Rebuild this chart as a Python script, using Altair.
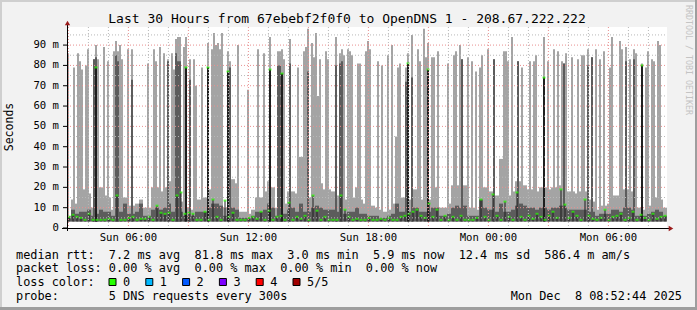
import altair as alt
import pandas as pd

# ---------------- data ----------------
# window: 30 hours, hours counted from the left edge (Sun ~02:56)
COL_H = 0.2    # width of one smoke column (hours)
STEP_H = 0.1   # width of one spike step (hours)

# low "smoke" per 12-minute column (ms)
base_light = [6,14,12,14,19,17,10,12,20,16, 15,9,12,15,15,11,11,12,14,10,
              10,20,20,18,20,23,14,14,13,10, 10,9,14,14,15,19,28,28,26,10,
              24,24,22,8,8,7,9,15,15,18, 23,20,10,10,12,18,18,17,35,15,
              15,24,24,22,19,19,18,16,16,14, 15,15,20,14,12,11,11,10,9,8,
              9,12,45,15,15,14,19,19,14,13, 14,20,20,10,10,12,21,21,19,21,
              10,10,9,27,20,18,18,16,34,16, 16,18,23,23,21,19,19,18,20,20,
              19,20,20,21,20,18,18,17,18,18, 14,13,9,11,11,12,16,16,15,19,
              19,18,10,10,9,11,15,15,14,10]
base_dark = [5,9,7,8,8,9,6,7,9,8, 8,6,7,8,12,7,7,8,12,6,
             6,9,10,9,10,12,8,8,8,6, 6,6,8,8,8,10,12,12,11,6,
             11,10,9,5,5,5,6,8,8,9, 12,10,6,6,7,9,10,8,12,8,
             8,10,11,10,9,9,9,8,8,7, 8,8,10,7,7,6,6,6,5,5,
             6,7,12,8,8,8,10,10,8,8, 8,10,10,6,6,7,10,11,10,11,
             6,6,6,14,10,9,9,8,12,8, 8,9,11,12,11,10,10,9,10,10,
             9,10,10,11,10,9,9,9,9,9, 8,8,6,7,7,7,9,9,8,10,
             10,9,6,6,6,7,8,9,8,6]
base_median = [5.5,6.5,5.5,5,4,7,4,4,4,4, 4.5,4,16,4,4,5,5.5,4,4.5,4.5,
               5.5,4,11,7.5,7,7.5,4,16,17.5,7, 7.5,7,4,4,8,4,14,5.5,4,13.5,
               5.5,7.5,4,4,4,5,5.5,4.5,8,4, 8.5,4,5.5,6,4,12.5,4,5.5,4.5,6,
               4,16,8.5,4,5.5,4,4,4,16,9, 5.5,4,4.5,4,4,5,4,4,4.5,4,
               5,4,4,5.5,6,7,8,9,6,5, 12,5.5,9,4,6,4,5.5,4,6,4,
               4,4,5,14,5.5,4,16.5,6,4,13, 5.5,4,17.5,5.5,4,6,4.5,7,5.5,4,
               6,8,5,19,11.5,5,8,6,4,14, 6,4.5,4,5,9,4,5.5,6,7,4,
               5,8,4,6.5,5,4,7,4.5,5.5,6]

# tall spikes: step index (6 min each), max ping, dark band top, black/median top (0 = none)
spike_step  = [0,3,5,6,7,9,10,13,14,15,18,20,23,24,25,26,27,30,32,40,43,44,46,48,50,52,53,54,55,56,
               58,59,61,63,64,67,70,72,73,74,75,76,77,80,81,85,90,95,98,101,105,106,107,108,111,115,118,119,120,122,
               123,124,125,126,129,130,134,136,137,138,140,141,142,145,146,149,150,151,155,157,160,162,165,166,169,170,172,175,176,178,
               179,180,182,183,185,190,193,194,196,197,200,202,204,206,207,210,213,218,219,220,222,225,227,231,233,234,238,240,243,245,
               247,248,249,252,255,257,258,260,262,264,266,268,271,272,276,277,279,281,283,284,287,289,290,292,293,295,296]
spike_max   = [86,79,86,82,78,80,88,83,90,83,89,82,87,92,87,90,83,88,88,81,88,82,89,86,83,86,78,93,94,94,
               89,94,83,83,70,79,91,88,96,90,91,88,96,87,82,90,68,88,86,94,87,87,88,83,93,79,87,89,98,91,
               84,96,65,83,87,83,94,86,88,85,88,87,85,81,81,87,92,88,82,80,85,90,79,81,79,86,95,88,82,98,
               84,91,84,84,87,81,85,87,90,83,84,82,77,79,85,88,83,87,87,82,94,82,79,82,82,85,94,82,88,87,
               82,81,86,84,83,85,85,88,84,88,83,87,79,94,92,88,89,83,88,86,81,79,87,83,82,92,90]
spike_dark  = [0,0,0,0,0,0,0,83,84,0,0,0,0,85,82,0,0,0,73,0,0,0,0,0,82,0,0,86,82,82,
               0,0,73,0,0,0,0,0,0,0,0,0,0,0,79,0,0,0,0,0,80,80,0,0,81,0,0,0,77,0,
               0,0,0,0,0,0,80,81,82,0,0,0,0,0,0,0,0,0,0,0,0,0,0,0,72,0,74,0,0,0,
               0,0,0,0,0,0,0,0,0,83,0,0,0,0,0,0,83,0,0,0,0,82,0,0,0,0,0,0,0,0,
               0,81,0,0,0,0,0,80,84,0,0,0,0,0,0,0,82,0,83,0,0,0,0,0,0,0,0]
spike_black = [0,0,0,0,0,0,0,0,79,0,0,0,0,0,0,0,0,0,0,0,0,0,0,0,0,0,0,0,0,0,
               0,79,0,0,0,0,79,0,0,0,0,0,0,77,0,0,0,0,0,78,0,0,76,0,0,0,0,0,0,0,
               0,0,0,0,0,0,0,0,0,0,0,0,0,0,0,0,0,0,0,0,0,0,0,0,0,81,0,0,0,0,
               0,78,0,0,0,0,0,0,0,0,0,0,0,0,0,0,0,0,0,0,0,0,0,0,0,0,74,0,0,0,
               0,0,0,0,0,0,0,0,0,0,0,0,0,0,0,0,0,0,0,0,80,0,0,0,0,0,0]

y_ticks = [0, 10, 20, 30, 40, 50, 60, 70, 80, 90]
y_labels = ["0", "10 m", "20 m", "30 m", "40 m", "50 m", "60 m", "70 m", "80 m", "90 m"]
x_tick_hours = [3.07, 9.07, 15.07, 21.07, 27.07]
x_tick_labels = ["Sun 06:00", "Sun 12:00", "Sun 18:00", "Mon 00:00", "Mon 06:00"]

title_text = "Last 30 Hours from 67ebebf2f0f0 to OpenDNS 1 - 208.67.222.222"
legend_lines = [
    "median rtt:  7.2 ms avg  81.8 ms max  3.0 ms min  5.9 ms now  12.4 ms sd  586.4 m am/s",
    "packet loss: 0.00 % avg  0.00 % max  0.00 % min  0.00 % now",
    "loss color:",
    "probe:       5 DNS requests every 300s",
]
loss_labels = ["0", "1", "2", "3", "4", "5/5"]
loss_colors = ["#26ff00", "#00b8ff", "#0059ff", "#7e00ff", "#ff0000", "#a10000"]
date_text = "Mon Dec  8 08:52:44 2025"
watermark = "RRDTOOL / TOBI OETIKER"

# ---------------- geometry ----------------
W, H = 600, 201
YMAX = 98.9
LO = 3.2
MONO = "DejaVu Sans Mono"

xs = alt.Scale(domain=[0, 30], nice=False, zero=False)
ys = alt.Scale(domain=[0, YMAX], nice=False, zero=True)

n = len(base_light)
base_df = pd.DataFrame({
    "x": [i * COL_H for i in range(n)],
    "x2": [(i + 1) * COL_H for i in range(n)],
    "xc": [(i + 0.5) * COL_H for i in range(n)],
    "lo": [LO] * n,
    "light": base_light,
    "dark": base_dark,
    "med": base_median,
})
spike_df = pd.DataFrame({
    "x": [s * STEP_H for s in spike_step],
    "x2": [(s + 1) * STEP_H for s in spike_step],
    "xc": [(s + 0.5) * STEP_H for s in spike_step],
    "lo": [LO] * len(spike_step),
    "top": spike_max,
    "dark": spike_dark,
    "black": spike_black,
})


def X(f):
    return alt.X(f, type="quantitative", scale=xs, axis=None)


def Y(f):
    return alt.Y(f, type="quantitative", scale=ys, axis=None)


LIGHT = "#a4a4a4"
DARK = "#5c5c5c"
BLACK = "#1e1e1e"
GREEN = "#26ff00"

layers = []
layers.append(alt.Chart(base_df).mark_rect(color=LIGHT).encode(x=X("x"), x2="x2", y=Y("lo"), y2="light"))
layers.append(alt.Chart(spike_df).mark_rect(color=LIGHT).encode(x=X("x"), x2="x2", y=Y("lo"), y2="top"))
layers.append(alt.Chart(base_df).mark_rect(color=DARK).encode(x=X("x"), x2="x2", y=Y("lo"), y2="dark"))
layers.append(alt.Chart(spike_df).transform_filter("datum.dark > 0").mark_rect(color=DARK)
              .encode(x=X("x"), x2="x2", y=Y("lo"), y2="dark"))
layers.append(alt.Chart(spike_df).transform_filter("datum.black > 0").mark_rect(color=BLACK)
              .encode(x=X("x"), x2="x2", y=Y("lo"), y2="black"))
layers.append(alt.Chart(base_df).mark_rule(color=BLACK, strokeWidth=1).encode(x=X("xc"), y=Y("lo"), y2="med"))
layers.append(alt.Chart(base_df).mark_tick(color=GREEN, orient="horizontal", size=3, thickness=2)
              .encode(x=X("xc"), y=Y("med")))
layers.append(alt.Chart(spike_df).transform_filter("datum.black > 0")
              .mark_tick(color=GREEN, orient="horizontal", size=3, thickness=2)
              .encode(x=X("xc"), y=Y("black")))

# grid
h0 = x_tick_hours[0] - 3
major_v = [h0 + 3 * k for k in range(10)]
minor_v = [h0 + k for k in range(30) if k % 3 != 0]
major_h = [10 * k for k in range(1, 10)]
minor_h = [5 + 10 * k for k in range(10)]
GRAYG = "#b8b8b8"
REDG = "#e89090"
layers.append(alt.Chart(pd.DataFrame({"v": minor_h})).mark_rule(color=GRAYG, strokeDash=[1, 2], strokeWidth=1)
              .encode(y=Y("v"), x=alt.value(0), x2=alt.value(W)))
layers.append(alt.Chart(pd.DataFrame({"v": minor_v})).mark_rule(color=GRAYG, strokeDash=[1, 2], strokeWidth=1)
              .encode(x=X("v"), y=alt.value(0), y2=alt.value(H)))
layers.append(alt.Chart(pd.DataFrame({"v": major_h})).mark_rule(color=REDG, strokeDash=[1, 2], strokeWidth=1)
              .encode(y=Y("v"), x=alt.value(0), x2=alt.value(W)))
layers.append(alt.Chart(pd.DataFrame({"v": major_v})).mark_rule(color=REDG, strokeDash=[1, 2], strokeWidth=1)
              .encode(x=X("v"), y=alt.value(0), y2=alt.value(H)))

one = pd.DataFrame({"a": [0]})

# axes
layers.append(alt.Chart(one).mark_rule(color="#000000", strokeWidth=1)
              .encode(x=alt.value(-5), x2=alt.value(W + 3), y=alt.value(H + 0.5)))
layers.append(alt.Chart(one).mark_rule(color="#000000", strokeWidth=1)
              .encode(x=alt.value(0.5), y=alt.value(-3), y2=alt.value(H + 3)))
layers.append(alt.Chart(one).mark_point(shape="triangle-up", filled=True, color="#9b1b1b", size=28, opacity=1)
              .encode(x=alt.value(0.5), y=alt.value(-4)))
layers.append(alt.Chart(one).mark_point(shape="triangle-right", filled=True, color="#9b1b1b", size=28, opacity=1)
              .encode(x=alt.value(W + 4), y=alt.value(H + 0.5)))

ytick_df = pd.DataFrame({"v": y_ticks, "lab": y_labels})
layers.append(alt.Chart(ytick_df).mark_rule(color="#000000", strokeWidth=1)
              .encode(y=Y("v"), x=alt.value(-4), x2=alt.value(0)))
layers.append(alt.Chart(ytick_df).mark_text(font=MONO, fontSize=10.6, align="right", baseline="middle", color="#000000")
              .encode(y=Y("v"), x=alt.value(-8), text="lab:N"))
xtick_df = pd.DataFrame({"v": x_tick_hours, "lab": x_tick_labels})
layers.append(alt.Chart(xtick_df).mark_text(font=MONO, fontSize=10.6, align="center", baseline="middle", color="#000000")
              .encode(x=X("v"), y=alt.value(H + 10), text="lab:N"))

# texts
def txt(s, x, y, size, align="left", angle=0, color="#000000"):
    d = pd.DataFrame({"t": [s.replace(" ", "\u00a0")]})
    m = alt.Chart(d).mark_text(font=MONO, fontSize=size, align=align, baseline="middle",
                               color=color, angle=angle)
    return m.encode(x=alt.value(x), y=alt.value(y), text="t:N")


OX, OY = 67, 27
layers.append(txt(title_text, 347 - OX, 19 - OY, 13, align="center"))
layers.append(txt("Seconds", 10 - OX, 127 - OY, 11.5, align="center", angle=270))
layers.append(txt(watermark, 688 - OX, 60 - OY, 8.3, align="center", angle=90, color="#c4c4c4"))
line_y = [254.5, 268.2, 282, 296]
for s, yy in zip(legend_lines, line_y):
    layers.append(txt(s, 16 - OX, yy - OY, 11.87))
layers.append(txt(date_text, 682 - OX, 296 - OY, 11.87, align="right"))

for k, (lab, col) in enumerate(zip(loss_labels, loss_colors)):
    x0 = 109 + k * 36.8 - OX
    layers.append(alt.Chart(one).mark_rect(color=col, stroke="#000000", strokeWidth=1)
                  .encode(x=alt.value(x0), x2=alt.value(x0 + 7), y=alt.value(278.5 - OY), y2=alt.value(285.5 - OY)))
    layers.append(txt(lab, x0 + 14, 282 - OY, 11.87))

# frame (3D border)
TW, TH = 697, 310
def frame(x1, x2, y1, y2, c):
    return alt.Chart(one).mark_rect(color=c).encode(
        x=alt.value(x1 - OX), x2=alt.value(x2 - OX), y=alt.value(y1 - OY), y2=alt.value(y2 - OY))

layers.append(frame(0, TW, 0, 2, "#cfcfcf"))
layers.append(frame(0, 2, 0, TH, "#cfcfcf"))
layers.append(frame(0, TW, TH - 3, TH, "#9e9e9e"))
layers.append(frame(TW - 2, TW, 0, TH, "#9e9e9e"))

chart = alt.layer(*layers).properties(
    width=W, height=H,
    padding={"left": OX, "top": OY, "right": TW - OX - W, "bottom": TH - OY - H},
    autosize=alt.AutoSizeParams(type="none"),
    background="#f2f2f2",
).configure_view(fill="#ffffff", strokeWidth=0)

chart.save("out.html", embed_options={"renderer": "svg", "actions": False})
